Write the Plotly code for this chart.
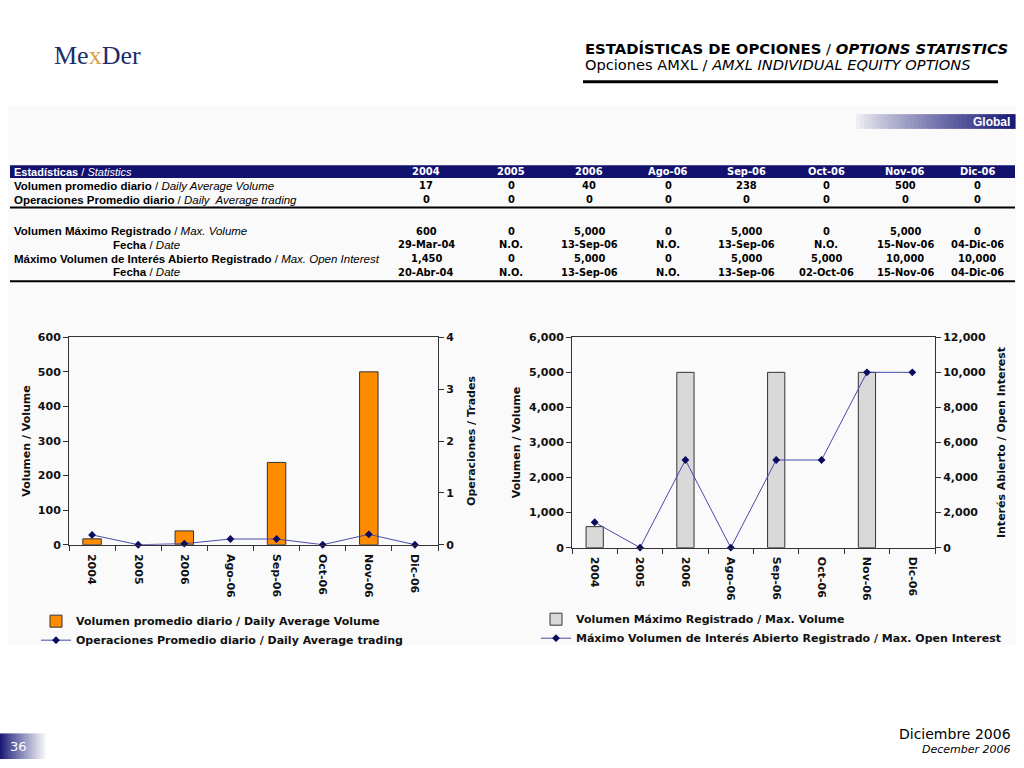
import plotly.graph_objects as go

W, H = 1024, 768

# ---------------- data ----------------
categories = ["2004", "2005", "2006", "Ago-06", "Sep-06", "Oct-06", "Nov-06", "Dic-06"]
daily_avg_volume = [17, 0, 40, 0, 238, 0, 500, 0]
daily_avg_trading = [0, 0, 0, 0, 0, 0, 0, 0]
chart_daily_trading = [0.19, 0, 0.02, 0.11, 0.11, 0, 0.2, 0]  # as drawn in chart
max_volume = [600, 0, 5000, 0, 5000, 0, 5000, 0]
max_volume_date = ["29-Mar-04", "N.O.", "13-Sep-06", "N.O.", "13-Sep-06", "N.O.", "15-Nov-06", "04-Dic-06"]
max_open_interest = [1450, 0, 5000, 0, 5000, 5000, 10000, 10000]
max_oi_date = ["20-Abr-04", "N.O.", "13-Sep-06", "N.O.", "13-Sep-06", "02-Oct-06", "15-Nov-06", "04-Dic-06"]

table_header = ["2004", "2005", "2006", "Ago-06", "Sep-06", "Oct-06", "Nov-06", "Dic-06"]
col_centers = [426, 511, 589, 668, 746, 826, 905, 977]

NAVY = "#12126E"
NUMFONT = "Liberation Sans Narrow, DejaVu Sans Condensed, Liberation Sans"

def px(x):
    return x / W

def py(y):
    return 1 - y / H

annotations = []
shapes = []

def ann(x, y, text, size=11, color="#000", family="Liberation Sans", anchor="left"):
    annotations.append(dict(x=px(x), y=py(y), xref="paper", yref="paper", text=text, showarrow=False,
                            xanchor=anchor, yanchor="middle",
                            font=dict(size=size, color=color, family=family)))

def rect(x0, y0, x1, y1, fill):
    shapes.append(dict(type="rect", xref="paper", yref="paper", x0=px(x0), x1=px(x1), y0=py(y1), y1=py(y0),
                       fillcolor=fill, line=dict(width=0), layer="below"))

def hline(x0, x1, y, width, color="#000"):
    shapes.append(dict(type="line", xref="paper", yref="paper", x0=px(x0), x1=px(x1), y0=py(y), y1=py(y),
                       line=dict(color=color, width=width)))

def mix(c1, c2, t):
    a = [int(c1[i:i + 2], 16) for i in (1, 3, 5)]
    b = [int(c2[i:i + 2], 16) for i in (1, 3, 5)]
    return "#" + "".join(f"{round(a[k] + (b[k] - a[k]) * t):02x}" for k in range(3))

def gradient(x0, x1, y0, y1, c_from, c_to, n=40, power=1.0):
    step = (x1 - x0) / n
    for i in range(n):
        t = (i / (n - 1)) ** power
        shapes.append(dict(type="rect", xref="paper", yref="paper", x0=px(x0 + i * step), x1=px(x0 + (i + 1) * step + 0.6),
                           y0=py(y1), y1=py(y0), fillcolor=mix(c_from, c_to, t), line=dict(width=0), layer="below"))

# ---------------- background panel ----------------
rect(8, 101, 1016, 650, "#FAFAFA")

# ---------------- header ----------------
ann(52, 50, "Me<span style='color:#D9A24A'>x</span>Der", size=26, color="#1C2D6B", family="Liberation Serif")
ann(583, 43, "<b>ESTADÍSTICAS DE OPCIONES</b> / <b><i>OPTIONS STATISTICS</i></b>", size=14.8, family="DejaVu Sans")
ann(583, 60, "Opciones AMXL / <i>AMXL INDIVIDUAL EQUITY OPTIONS</i>", size=14.6, family="DejaVu Sans")
hline(583, 998, 77, 3)

gradient(852, 1015, 110, 125, "#FAFAFA", "#1A1A78", n=40, power=0.8)
ann(1012, 118, "<b>Global</b>", size=12, color="#FFFFFF", family="Liberation Sans", anchor="right")

# ---------------- table ----------------
rect(10, 162, 1015, 175, NAVY)
ann(12, 168.5, "<b>Estadísticas</b> / <i>Statistics</i>", size=11, color="#FFFFFF")
for c, h in zip(col_centers, table_header):
    ann(c, 168.5, f"<b>{h}</b>", size=11, color="#FFFFFF", family=NUMFONT, anchor="center")

def fmt(v):
    return f"{v:,}"

rows = [
    (183, "<b>Volumen promedio diario</b> / <i>Daily Average Volume</i>", "left", [fmt(v) for v in daily_avg_volume]),
    (197, "<b>Operaciones Promedio diario</b> / <i>Daily  Average trading</i>", "left", [fmt(v) for v in daily_avg_trading]),
    (229, "<b>Volumen Máximo Registrado</b> / <i>Max. Volume</i>", "left", [fmt(v) for v in max_volume]),
    (243, "<b>Fecha</b> / <i>Date</i>", "center", max_volume_date),
    (257, "<b>Máximo Volumen de Interés Abierto Registrado</b> / <i>Max. Open Interest</i>", "left", [fmt(v) for v in max_open_interest]),
    (271, "<b>Fecha</b> / <i>Date</i>", "center", max_oi_date),
]
for y, label, al, vals in rows:
    ann(12 if al == "left" else 146, y, label, size=11.5, anchor=al)
    for c, v in zip(col_centers, vals):
        ann(c, y, f"<b>{v}</b>", size=11, family=NUMFONT, anchor="center")
hline(10, 1015, 205, 2)
hline(10, 1015, 280, 2)

# ---------------- footer ----------------
gradient(0, 48, 740, 766, "#1A1A78", "#FFFFFF", n=24, power=0.9)
ann(18, 753, "36", size=13, color="#FFFFFF", family="DejaVu Sans", anchor="center")
ann(1013, 741, "Diciembre 2006", size=14, family="DejaVu Sans", anchor="right")
ann(1013, 756, "<i>December 2006</i>", size=11, family="DejaVu Sans", anchor="right")

# ---------------- charts ----------------
CF = dict(family="DejaVu Sans", size=11, color="#111111", weight="bold")
TF = dict(family="DejaVu Sans", size=11, color="#111111", weight="bold")

def nz(vals):
    # zero-volume bars are not drawn in the original chart
    return [v if v else None for v in vals]

fig = go.Figure()
fig.add_trace(go.Bar(x=categories, y=nz(daily_avg_volume), name="Volumen promedio diario / Daily Average Volume",
                     marker=dict(color="#FF8C00", line=dict(color="#333333", width=1)), width=0.4,
                     xaxis="x", yaxis="y", legend="legend"))
fig.add_trace(go.Scatter(x=categories, y=chart_daily_trading, name="Operaciones Promedio diario / Daily Average trading",
                         mode="lines+markers", line=dict(color="#4A4AA8", width=1),
                         marker=dict(symbol="diamond", size=6, color="#0A0A5E"), cliponaxis=False,
                         xaxis="x", yaxis="y2", legend="legend"))
fig.add_trace(go.Bar(x=categories, y=nz(max_volume), name="Volumen Máximo Registrado / Max. Volume",
                     marker=dict(color="#D9D9D9", line=dict(color="#333333", width=1)), width=0.38,
                     xaxis="x2", yaxis="y3", legend="legend2"))
fig.add_trace(go.Scatter(x=categories, y=max_open_interest,
                         name="Máximo Volumen de Interés Abierto Registrado / Max. Open Interest",
                         mode="lines+markers", line=dict(color="#4A4AA8", width=1),
                         marker=dict(symbol="diamond", size=6, color="#0A0A5E"), cliponaxis=False,
                         xaxis="x2", yaxis="y4", legend="legend2"))

L_DOM = [px(69), px(438)]
R_DOM = [px(572), px(935)]
Y_DOM_L = [py(548), py(337)]
Y_DOM_R = [py(551), py(337)]

def xax(domain, anchor):
    return dict(domain=domain, anchor=anchor, type="category", tickangle=90, tickfont=CF,
                showline=True, linecolor="#333333", linewidth=1, mirror=True,
                ticks="outside", tickson="boundaries", ticklen=5, tickcolor="#333333",
                ticklabelstandoff=6,
                showgrid=False, zeroline=False, fixedrange=True)

def yax(domain, anchor, rng, dtick, title, side="left", overlaying=None, fmt_="", standoff=6):
    d = dict(anchor=anchor, range=rng, dtick=dtick, tickfont=CF, tickformat=fmt_,
             title=dict(text=title, font=TF, standoff=standoff), side=side,
             showline=True, linecolor="#333333", linewidth=1, ticks="outside", ticklen=5, tickcolor="#333333",
             showgrid=False, zeroline=False, fixedrange=True)
    if overlaying:
        d["overlaying"] = overlaying
    else:
        d["domain"] = domain
    return d

fig.update_layout(
    width=W, height=H, autosize=False,
    margin=dict(l=0, r=0, t=0, b=0),
    paper_bgcolor="#FFFFFF", plot_bgcolor="rgba(0,0,0,0)",
    xaxis=xax(L_DOM, "y"),
    yaxis=yax(Y_DOM_L, "x", [0, 600], 100, "Volumen / Volume", standoff=4),
    yaxis2=yax(None, "x", [0, 4], 1, "Operaciones / Trades", side="right", overlaying="y", standoff=14),
    xaxis2=xax(R_DOM, "y3"),
    yaxis3=yax(Y_DOM_R, "x2", [0, 6000], 1000, "Volumen / Volume", fmt_=",", standoff=6),
    yaxis4=yax(None, "x2", [0, 12000], 2000, "Interés Abierto / Open Interest", side="right",
               overlaying="y3", fmt_=",", standoff=12),
    legend=dict(x=px(36), y=py(611), xanchor="left", yanchor="top", orientation="v",
                font=CF, bgcolor="rgba(0,0,0,0)", tracegroupgap=0, itemwidth=30),
    legend2=dict(x=px(536), y=py(609), xanchor="left", yanchor="top", orientation="v",
                 font=CF, bgcolor="rgba(0,0,0,0)", tracegroupgap=0, itemwidth=30),
    showlegend=True,
    annotations=annotations,
    shapes=shapes,
)

fig.write_html("out.html", config={"displayModeBar": False},
               post_script="document.body.style.margin='0';document.body.style.overflow='hidden';")
